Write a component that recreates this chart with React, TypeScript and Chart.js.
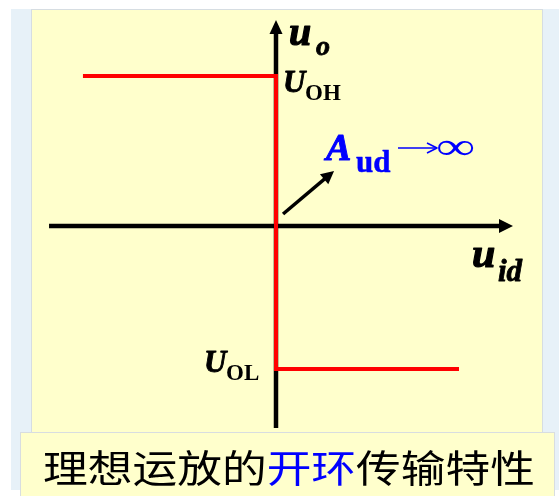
import { useEffect, useRef } from "react";
import { Chart, registerables } from "chart.js";

Chart.register(...registerables);

// Transfer characteristic (input u_id, output u_o), in normalised units
const uid = [-1.287, 0, 0, 1.22];
const uo = [1, 1, -0.953, -0.953];
// Axis extents (arrow tips) in data units
const xAxisSpan = [-1.513, 1.58];
const yAxisSpan = [-1.347, 1.373];
// Pointer arrow for "A_ud -> infinity"
const gainArrowFrom = [0.047, 0.08];
const gainArrowTo = [0.387, 0.367];
// Scale ranges
const xRange = [-1.84, 1.8867];
const yRange = [-1.8, 1.5067];
// Caption
const captionTexts = ["理想运放的", "开环", "传输特性"];
const captionColors = ["#000000", "#0000FF", "#000000"];

const SERIF = "'Liberation Serif', 'Times New Roman', serif";

type Part = { t: string; font: string; color: string; dx: number; dy: number; heavy?: number };

function drawParts(ctx: CanvasRenderingContext2D, x: number, y: number, parts: Part[]) {
  for (const p of parts) {
    ctx.font = p.font;
    ctx.fillStyle = p.color;
    ctx.textBaseline = "alphabetic";
    ctx.textAlign = "left";
    ctx.fillText(p.t, x + p.dx, y + p.dy);
    if (p.heavy) {
      ctx.strokeStyle = p.color;
      ctx.lineWidth = p.heavy;
      ctx.lineJoin = "round";
      ctx.strokeText(p.t, x + p.dx, y + p.dy);
    }
  }
}

function arrowHead(ctx: CanvasRenderingContext2D, tx: number, ty: number, ang: number, len: number, half: number, color: string) {
  ctx.save();
  ctx.translate(tx, ty);
  ctx.rotate(ang);
  ctx.beginPath();
  ctx.moveTo(0, 0);
  ctx.lineTo(-len, -half);
  ctx.lineTo(-len, half);
  ctx.closePath();
  ctx.fillStyle = color;
  ctx.fill();
  ctx.restore();
}

const decorPlugin = {
  id: "decor",
  beforeDraw(chart: any) {
    const ctx: CanvasRenderingContext2D = chart.ctx;
    const W = chart.width, H = chart.height;
    ctx.save();
    ctx.fillStyle = "#ffffff";
    ctx.fillRect(0, 0, W, H);
    ctx.fillStyle = "#E7F1F8";
    ctx.fillRect(11, 9, W - 11, H - 9 - 6);
    ctx.fillStyle = "#FFFFCC";
    ctx.fillRect(32, 10, 510, 424);
    ctx.strokeStyle = "#d6dde2";
    ctx.lineWidth = 1;
    ctx.strokeRect(31.5, 9.5, 511, 425);
    // caption box
    ctx.fillStyle = "#FFFFCC";
    ctx.fillRect(20, 432, 535, H - 432);
    ctx.strokeStyle = "#d8dde0";
    ctx.strokeRect(20.5, 432.5, 534, H - 432);
    ctx.restore();
  },
  beforeDatasetsDraw(chart: any) {
    const ctx: CanvasRenderingContext2D = chart.ctx;
    const xs = chart.scales.x, ys = chart.scales.y;
    const ox = xs.getPixelForValue(0), oy = ys.getPixelForValue(0);
    ctx.save();
    ctx.strokeStyle = "#000";
    ctx.lineWidth = 4.5;
    ctx.lineCap = "butt";
    // x axis
    const x0 = xs.getPixelForValue(xAxisSpan[0]);
    const x1 = xs.getPixelForValue(xAxisSpan[1]);
    ctx.beginPath();
    ctx.moveTo(x0, oy);
    ctx.lineTo(x1 - 10, oy);
    ctx.stroke();
    arrowHead(ctx, x1, oy, 0, 14, 7, "#000");
    // y axis
    const y0 = ys.getPixelForValue(yAxisSpan[0]);
    const y1 = ys.getPixelForValue(yAxisSpan[1]);
    ctx.beginPath();
    ctx.moveTo(ox, y0);
    ctx.lineTo(ox, y1 + 10);
    ctx.stroke();
    arrowHead(ctx, ox, y1, -Math.PI / 2, 14, 6.5, "#000");
    ctx.restore();
  },
  afterDraw(chart: any) {
    const ctx: CanvasRenderingContext2D = chart.ctx;
    const xs = chart.scales.x, ys = chart.scales.y;
    const ox = xs.getPixelForValue(0), oy = ys.getPixelForValue(0);
    ctx.save();
    // pointer arrow
    const ax0 = xs.getPixelForValue(gainArrowFrom[0]);
    const ay0 = ys.getPixelForValue(gainArrowFrom[1]);
    const ax1 = xs.getPixelForValue(gainArrowTo[0]);
    const ay1 = ys.getPixelForValue(gainArrowTo[1]);
    const ang = Math.atan2(ay1 - ay0, ax1 - ax0);
    ctx.strokeStyle = "#000";
    ctx.lineWidth = 3.5;
    ctx.beginPath();
    ctx.moveTo(ax0, ay0);
    ctx.lineTo(ax1 - Math.cos(ang) * 8, ay1 - Math.sin(ang) * 8);
    ctx.stroke();
    arrowHead(ctx, ax1, ay1, ang, 13, 6.5, "#000");

    const bi = (s: number) => `italic bold ${s}px ${SERIF}`;
    const b = (s: number) => `bold ${s}px ${SERIF}`;
    // u_o
    drawParts(ctx, ox, ys.getPixelForValue(yAxisSpan[1]), [
      { t: "u", font: bi(40), color: "#000", dx: 13, dy: 25, heavy: 1.2 },
      { t: "o", font: bi(28), color: "#000", dx: 40, dy: 35, heavy: 0.8 },
    ]);
    // U_OH
    const yH = ys.getPixelForValue(uo[0]);
    drawParts(ctx, ox, yH, [
      { t: "U", font: bi(31), color: "#000", dx: 7, dy: 16, heavy: 0.9 },
      { t: "OH", font: b(23), color: "#000", dx: 29, dy: 24 },
    ]);
    // U_OL
    const yL = ys.getPixelForValue(uo[2]);
    drawParts(ctx, ox, yL, [
      { t: "U", font: bi(31), color: "#000", dx: -72, dy: 3, heavy: 0.9 },
      { t: "OL", font: b(23), color: "#000", dx: -50, dy: 11 },
    ]);
    // A_ud -> infinity
    drawParts(ctx, ox, oy, [
      { t: "A", font: bi(38), color: "#0000FF", dx: 50, dy: -66, heavy: 1 },
      { t: "ud", font: b(31), color: "#0000FF", dx: 80, dy: -54, heavy: 0.5 },
    ]);
    // arrow →
    ctx.strokeStyle = "#0000FF";
    ctx.lineWidth = 1.6;
    ctx.beginPath();
    ctx.moveTo(ox + 122, oy - 78);
    ctx.lineTo(ox + 160, oy - 78);
    ctx.stroke();
    ctx.beginPath();
    ctx.moveTo(ox + 151, oy - 83);
    ctx.lineTo(ox + 161, oy - 78);
    ctx.lineTo(ox + 151, oy - 73);
    ctx.stroke();
    // infinity
    ctx.save();
    ctx.translate(ox + 160, oy - 67);
    ctx.scale(1.45, 1);
    ctx.font = `38px ${SERIF}`;
    ctx.fillStyle = "#0000FF";
    ctx.textBaseline = "alphabetic";
    ctx.fillText("∞", 0, 0);
    ctx.restore();
    // u_id
    const xe = xs.getPixelForValue(xAxisSpan[1]);
    drawParts(ctx, xe, oy, [
      { t: "u", font: bi(42), color: "#000", dx: -41, dy: 41, heavy: 1.2 },
      { t: "id", font: bi(31), color: "#000", dx: -15, dy: 55, heavy: 0.8 },
    ]);

    // caption
    ctx.font = `38px 'Noto Sans CJK SC', sans-serif`;
    ctx.textBaseline = "alphabetic";
    const total = ctx.measureText(captionTexts.join("")).width;
    const sx = 492 / total;
    ctx.save();
    ctx.translate(43, 482);
    ctx.scale(sx, 1);
    let cx = 0;
    captionTexts.forEach((t, i) => {
      ctx.fillStyle = captionColors[i];
      ctx.fillText(t, cx, 0);
      cx += ctx.measureText(t).width;
    });
    ctx.restore();
    ctx.restore();
  },
};

export default function App() {
  const ref = useRef<HTMLCanvasElement | null>(null);
  useEffect(() => {
    if (!ref.current) return;
    const chart = new Chart(ref.current, {
      type: "scatter",
      data: {
        datasets: [
          {
            data: uid.map((x, i) => ({ x, y: uo[i] })),
            showLine: true,
            borderColor: "#FF0000",
            borderWidth: 4,
            pointRadius: 0,
            borderJoinStyle: "miter",
            borderCapStyle: "butt",
            tension: 0,
          } as any,
        ],
      },
      options: {
        responsive: false,
        animation: false,
        layout: { padding: 0 },
        plugins: { legend: { display: false }, tooltip: { enabled: false }, title: { display: false } },
        scales: {
          x: { type: "linear", min: xRange[0], max: xRange[1], display: false },
          y: { type: "linear", min: yRange[0], max: yRange[1], display: false },
        },
      },
      plugins: [decorPlugin],
    });
    return () => chart.destroy();
  }, []);
  return (
    <div style={{ position: "fixed", left: 0, top: 0, width: 559, height: 496 }}>
      <canvas ref={ref} width={559} height={496} style={{ display: "block" }} />
    </div>
  );
}
